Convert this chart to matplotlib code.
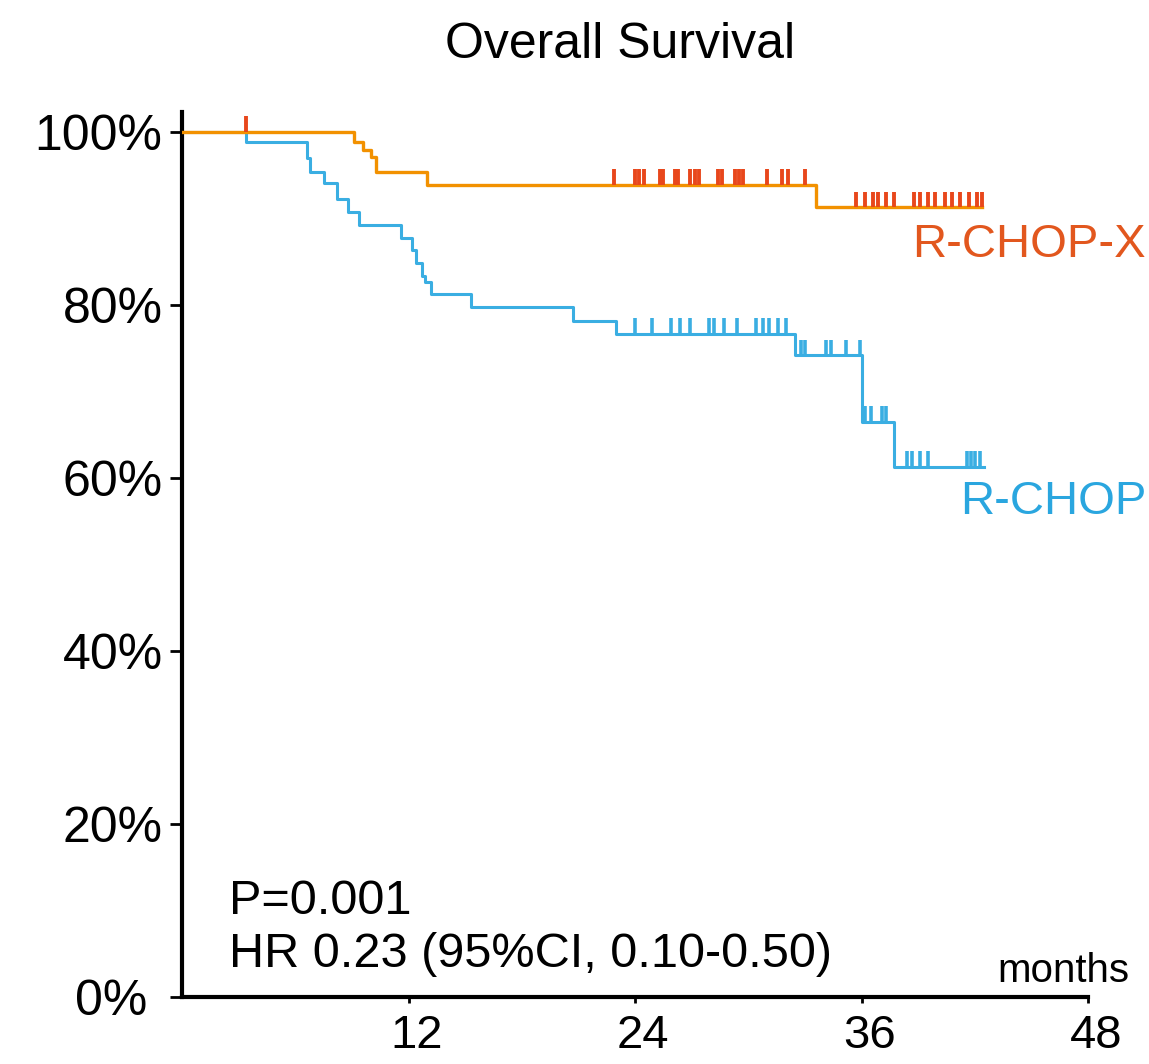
import numpy as np
import matplotlib
matplotlib.use("Agg")
import matplotlib.pyplot as plt
from matplotlib.transforms import ScaledTranslation

plt.rcParams['font.family'] = ['Liberation Sans', 'DejaVu Sans']

# ---- data (months, survival %) ----
xchop_times = [0, 9.1, 9.6, 10.0, 10.3, 13.0, 33.6]
xchop_surv = [100, 98.8, 97.9, 97.1, 95.4, 93.9, 91.3]
xchop_end = 42.4
xchop_censor = [3.4, 22.9, 24.0, 24.2, 24.5, 25.3, 25.5, 26.1, 26.3, 26.9, 27.2, 27.4,
                28.4, 28.6, 29.3, 29.5, 29.7, 31.0, 31.8, 32.1, 33.0,
                35.7, 36.2, 36.6, 36.9, 37.3, 37.7, 38.8, 39.1, 39.5, 39.9,
                40.4, 40.8, 41.2, 41.7, 42.1, 42.4]

chop_times = [0, 3.4, 6.6, 6.8, 7.5, 8.2, 8.8, 9.4, 11.6, 12.2, 12.4, 12.7, 12.9,
              13.2, 15.3, 20.7, 23.0, 32.5, 36.05, 37.7]
chop_surv = [100, 98.9, 97.0, 95.4, 94.1, 92.3, 90.8, 89.2, 87.7, 86.4, 84.8, 83.3,
             82.7, 81.3, 79.8, 78.1, 76.7, 74.2, 66.5, 61.3]
chop_end = 42.5
chop_censor = [24.0, 24.9, 25.9, 26.4, 26.9, 27.9, 28.2, 28.7, 29.4, 30.4, 30.8, 31.1,
               31.6, 32.0, 32.8, 33.0, 34.1, 34.4, 35.2, 35.9, 36.2, 36.5, 37.1, 37.3,
               38.4, 38.7, 39.1, 39.5, 41.6, 41.8, 42.0, 42.3]

x_ticks = [12, 24, 36, 48]
y_ticks = [0, 20, 40, 60, 80, 100]
y_labels = ["0%", "20%", "40%", "60%", "80%", "100%"]

ORANGE = '#F29100'
ORANGE_TXT = '#E2571E'
CENSOR_OR = '#E8471C'
BLUE = '#3AAEE2'
BLUE_TXT = '#2AA6DF'

W, H = 1149, 1064
fig = plt.figure(figsize=(W / 100, H / 100), dpi=100)
left, right = 182 / W, 1088 / W
bottom, top = (H - 997) / H, (H - 112) / H
ax = fig.add_axes([left, bottom, right - left, top - bottom])
ax.set_xlim(0, 48)
ax.set_ylim(0, 100 + 20 * (20 / 173))


def stairs(times, surv, end):
    t = list(times) + [end]
    s = list(surv) + [surv[-1]]
    return t, s


def level_at(times, surv, t):
    idx = np.searchsorted(np.asarray(times), np.asarray(t), side='right') - 1
    return np.asarray(surv)[idx]


tick_h = 1.8
# R-CHOP (blue)
t, s = stairs(chop_times, chop_surv, chop_end)
ax.step(t, s, where='post', color=BLUE, lw=2.2, zorder=2)
lv = level_at(chop_times, chop_surv, chop_censor)
ax.vlines(chop_censor, lv, lv + tick_h, color=BLUE, lw=2.6, zorder=2)

# R-CHOP-X (orange)
t, s = stairs(xchop_times, xchop_surv, xchop_end)
ax.step(t, s, where='post', color=ORANGE, lw=2.4, zorder=3)
lv = level_at(xchop_times, xchop_surv, xchop_censor)
ax.vlines(xchop_censor, lv, lv + tick_h, color=CENSOR_OR, lw=2.8, zorder=3)

# axes styling
for sp in ['top', 'right']:
    ax.spines[sp].set_visible(False)
for sp in ['left', 'bottom']:
    ax.spines[sp].set_linewidth(3)
    ax.spines[sp].set_color('black')

ax.set_yticks(y_ticks)
ax.set_yticklabels(y_labels)
ax.set_xticks(x_ticks)
ax.set_xticklabels([str(v) for v in x_ticks])
ax.tick_params(axis='y', direction='out', length=9, width=2, labelsize=36, pad=5)
ax.tick_params(axis='x', direction='out', length=4, width=2, labelsize=34, pad=8)

# small offsets to mimic the original label placement
for lab in ax.get_xticklabels():
    lab.set_transform(lab.get_transform() + ScaledTranslation(0.08, 0, fig.dpi_scale_trans))
ylabs = ax.get_yticklabels()
ylabs[0].set_transform(ylabs[0].get_transform() + ScaledTranslation(-0.15, 0, fig.dpi_scale_trans))

# texts
fig.text(620 / W, 1 - 58 / H, "Overall Survival", ha='center', va='baseline', fontsize=36)
fig.text(912 / W, 1 - 257 / H, "R-CHOP-X", ha='left', va='baseline', fontsize=34, color=ORANGE_TXT)
fig.text(960 / W, 1 - 514 / H, "R-CHOP", ha='left', va='baseline', fontsize=34, color=BLUE_TXT)
fig.text(229 / W, 1 - 914 / H, "P=0.001", ha='left', va='baseline', fontsize=35)
fig.text(229 / W, 1 - 967 / H, "HR 0.23 (95%CI, 0.10-0.50)", ha='left', va='baseline', fontsize=35)
fig.text(997 / W, 1 - 982 / H, "months", ha='left', va='baseline', fontsize=29)

fig.savefig("out.png", dpi=100)
